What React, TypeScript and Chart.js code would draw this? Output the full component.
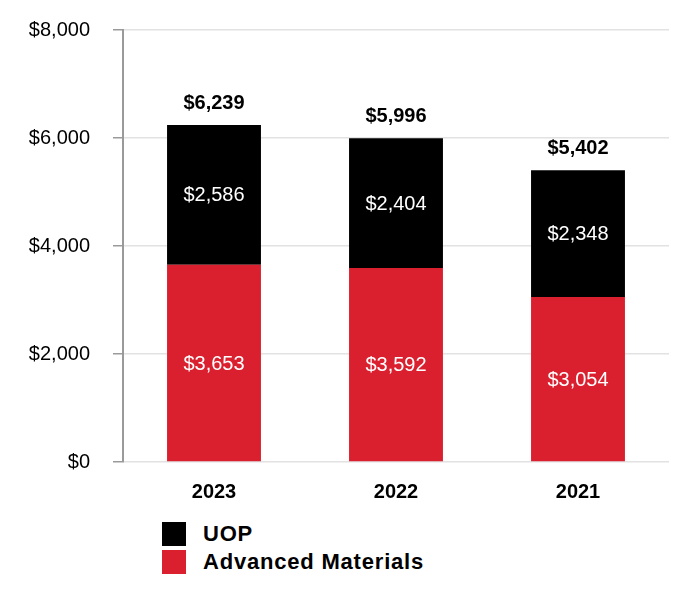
import React, { useEffect, useRef } from "react";
import { Chart, registerables } from "chart.js";

Chart.register(...registerables);

const years = ["2023", "2022", "2021"];
const advancedMaterials = [3653, 3592, 3054];
const uop = [2586, 2404, 2348];
const totals = [6239, 5996, 5402];
const yTicks = [0, 2000, 4000, 6000, 8000];

const RED = "#da202f";
const BLACK = "#000000";
const FONT = "'Liberation Sans', Arial, Helvetica, sans-serif";

const fmt = (v: number) => "$" + v.toLocaleString("en-US");

const labelPlugin = {
  id: "valueLabels",
  afterDatasetsDraw(chart: any) {
    const ctx = chart.ctx;
    ctx.save();
    ctx.textAlign = "center";
    ctx.textBaseline = "middle";
    chart.data.datasets.forEach((ds: any, di: number) => {
      const meta = chart.getDatasetMeta(di);
      meta.data.forEach((bar: any, i: number) => {
        const v = ds.data[i];
        ctx.fillStyle = "#ffffff";
        ctx.font = `20px ${FONT}`;
        ctx.fillText(fmt(v), bar.x, (bar.y + bar.base) / 2 + 1);
      });
    });
    const topMeta = chart.getDatasetMeta(chart.data.datasets.length - 1);
    const ys = chart.scales.y;
    topMeta.data.forEach((bar: any, i: number) => {
      ctx.fillStyle = "#000000";
      ctx.font = `bold 20px ${FONT}`;
      ctx.fillText(fmt(totals[i]), bar.x, ys.getPixelForValue(totals[i]) - 22);
    });
    ctx.restore();
  },
};

export default function App() {
  const ref = useRef<HTMLCanvasElement | null>(null);

  useEffect(() => {
    if (!ref.current) return;
    const chart = new Chart(ref.current, {
      type: "bar",
      data: {
        labels: years,
        datasets: [
          {
            label: "Advanced Materials",
            data: advancedMaterials,
            backgroundColor: RED,
            categoryPercentage: 1,
            barPercentage: 0.516,
          },
          {
            label: "UOP",
            data: uop,
            backgroundColor: BLACK,
            categoryPercentage: 1,
            barPercentage: 0.516,
          },
        ],
      },
      options: {
        animation: false,
        responsive: false,
        maintainAspectRatio: false,
        layout: { padding: { top: 30, right: 31, left: 0, bottom: 0 } },
        plugins: {
          legend: { display: false },
          tooltip: { enabled: false },
        },
        scales: {
          x: {
            stacked: true,
            grid: { display: false, drawTicks: false },
            border: { display: false },
            ticks: {
              color: "#000",
              padding: 18,
              font: { family: FONT, size: 20, weight: "bold" },
            },
            afterFit: (s: any) => {
              s.height = 48;
            },
          },
          y: {
            stacked: true,
            min: 0,
            max: 8000,
            afterBuildTicks: (s: any) => {
              s.ticks = yTicks.map((v) => ({ value: v }));
            },
            grid: {
              color: "#e2e2e2",
              lineWidth: 1.5,
              tickColor: "#9a9a9a",
              tickLength: 10,
              drawTicks: true,
            },
            border: { display: true, color: "#9a9a9a", width: 2 },
            ticks: {
              color: "#000",
              padding: 23,
              font: { family: FONT, size: 20 },
              callback: (v: any) => fmt(Number(v)),
            },
            afterFit: (s: any) => {
              s.width = 123;
              s.paddingTop = 0;
              s.paddingBottom = 0;
            },
          },
        },
      },
      plugins: [labelPlugin],
    });
    return () => chart.destroy();
  }, []);

  const legendItem = (color: string, text: string, top: number) => (
    <div
      style={{
        position: "absolute",
        left: 162,
        top,
        display: "flex",
        alignItems: "center",
        height: 24,
      }}
    >
      <div style={{ width: 24, height: 24, background: color }} />
      <span
        style={{
          marginLeft: 17,
          fontFamily: FONT,
          fontWeight: "bold",
          fontSize: 22,
          letterSpacing: "0.8px",
          color: "#000",
          whiteSpace: "nowrap",
        }}
      >
        {text}
      </span>
    </div>
  );

  return (
    <div
      style={{
        position: "absolute",
        left: 0,
        top: 0,
        width: 700,
        height: 600,
        background: "#fff",
      }}
    >
      <canvas ref={ref} width={700} height={510} style={{ display: "block" }} />
      {legendItem(BLACK, "UOP", 522)}
      {legendItem(RED, "Advanced Materials", 550)}
    </div>
  );
}
